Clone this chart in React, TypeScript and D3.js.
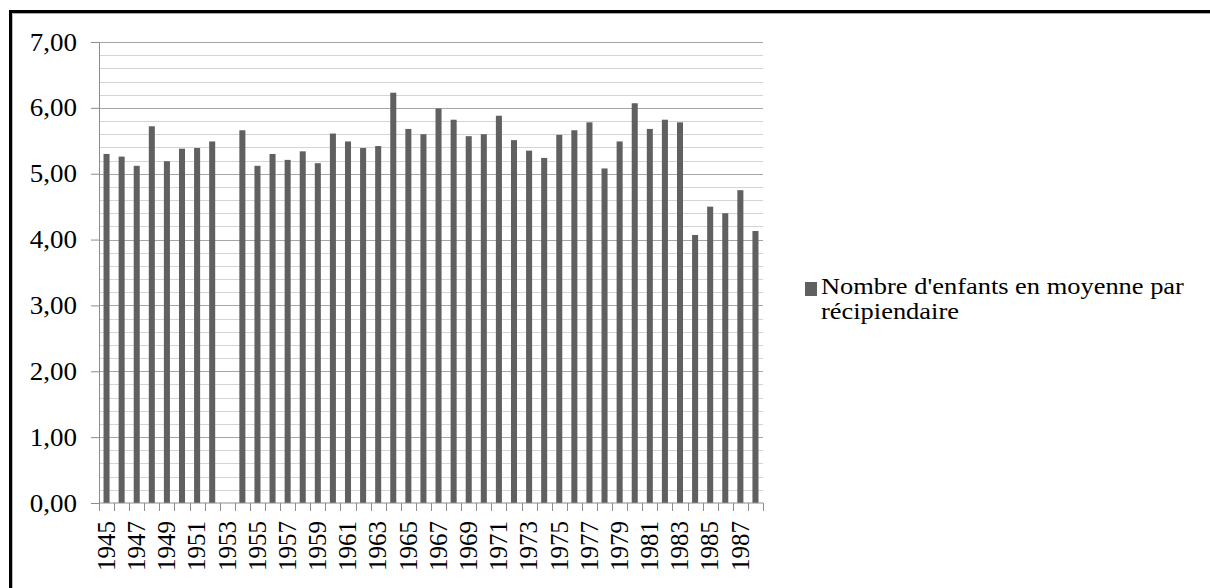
import React, { useRef, useEffect } from 'react';
import * as d3 from 'd3';

const years: number[] = d3.range(1945, 1989);

// average number of children per recipient (1953: no data)
const values: (number | null)[] = [
  5.30, 5.26, 5.12, 5.72, 5.19, 5.38, 5.39, 5.49, null, 5.66,
  5.12, 5.30, 5.21, 5.34, 5.16, 5.61, 5.49, 5.39, 5.42, 6.23,
  5.68, 5.60, 5.99, 5.82, 5.57, 5.60, 5.88, 5.51, 5.35, 5.24,
  5.59, 5.66, 5.78, 5.08, 5.49, 6.07, 5.68, 5.82, 5.78, 4.07,
  4.50, 4.40, 4.75, 4.13,
];

const yTicks: number[] = [0, 1, 2, 3, 4, 5, 6, 7];
const legendLines: string[] = ["Nombre d'enfants en moyenne par", 'récipiendaire'];

const W = 1210;
const H = 588;

const App = () => {
  const ref = useRef<SVGSVGElement>(null);

  useEffect(() => {
    const margin = { top: 42, right: 447, bottom: 85, left: 99 };
    const font = '"Liberation Serif", "Times New Roman", serif';
    const barColor = '#606060';

    const data = years.map((year, i) => ({ year, value: values[i] }));

    const x = d3.scaleBand<number>()
      .domain(years)
      .range([margin.left, W - margin.right])
      .padding(0);

    const y = d3.scaleLinear()
      .domain([0, 7])
      .range([H - margin.bottom, margin.top]);

    const svg = d3.select(ref.current);
    svg.selectAll('*').remove();

    svg.append('rect').attr('width', W).attr('height', H).attr('fill', '#fff');

    // frame (top and left edges only, as in the cropped source)
    svg.append('line').attr('x1', 10.5).attr('x2', W).attr('y1', 11.5).attr('y2', 11.5)
      .attr('stroke', '#000').attr('stroke-width', 3);
    svg.append('line').attr('x1', 10.5).attr('x2', 10.5).attr('y1', 10).attr('y2', H)
      .attr('stroke', '#000').attr('stroke-width', 3);
    svg.append('line').attr('x1', 12).attr('x2', W).attr('y1', 13.5).attr('y2', 13.5)
      .attr('stroke', '#aaa').attr('stroke-width', 1);
    svg.append('line').attr('x1', 12.5).attr('x2', 12.5).attr('y1', 13).attr('y2', H)
      .attr('stroke', '#bbb').attr('stroke-width', 1);

    const [x0, x1] = x.range();

    // minor gridlines every 0.2
    const minor = d3.range(0, 35).map(d => d / 5).filter(d => d % 1 !== 0);
    svg.append('g')
      .selectAll('line')
      .data(minor)
      .join('line')
      .attr('x1', x0).attr('x2', x1)
      .attr('y1', d => Math.round(y(d)) + 0.5).attr('y2', d => Math.round(y(d)) + 0.5)
      .attr('stroke', '#d4d4d4');

    // major gridlines
    svg.append('g')
      .selectAll('line')
      .data(yTicks.filter(d => d > 0))
      .join('line')
      .attr('x1', x0).attr('x2', x1)
      .attr('y1', d => Math.round(y(d)) + 0.5).attr('y2', d => Math.round(y(d)) + 0.5)
      .attr('stroke', '#a6a6a6');

    // bars
    const bw = x.bandwidth() * 0.4;
    svg.append('g')
      .attr('fill', barColor)
      .selectAll('rect')
      .data(data.filter(d => d.value !== null))
      .join('rect')
      .attr('x', d => (x(d.year) as number) + (x.bandwidth() - bw) / 2)
      .attr('y', d => y(d.value as number))
      .attr('width', bw)
      .attr('height', d => y(0) - y(d.value as number));

    // y axis
    const yAxis = svg.append('g')
      .attr('transform', `translate(${x0},0)`)
      .call(d3.axisLeft(y).tickValues(yTicks).tickSize(8).tickSizeOuter(0)
        .tickFormat(d => d3.format('.2f')(d as number).replace('.', ',')));
    yAxis.select('.domain').attr('stroke', '#8c8c8c');
    yAxis.selectAll('.tick line').attr('stroke', '#8c8c8c');
    yAxis.selectAll('.tick text')
      .attr('x', 0)
      .attr('transform', 'translate(-22,0) scale(1.08,1)')
      .attr('dy', '0.32em')
      .attr('fill', '#000')
      .attr('font-family', font)
      .attr('font-size', 25);

    // x axis: ticks on category boundaries
    const xAxis = svg.append('g').attr('transform', `translate(0,${y(0)})`);
    xAxis.append('line').attr('x1', x0).attr('x2', x1)
      .attr('stroke', '#8c8c8c');
    xAxis.selectAll('line.tk')
      .data([...years.map(d => x(d) as number), x1])
      .join('line')
      .attr('class', 'tk')
      .attr('x1', d => Math.round(d) + 0.5).attr('x2', d => Math.round(d) + 0.5)
      .attr('y1', 0).attr('y2', 8)
      .attr('stroke', '#8c8c8c');
    xAxis.selectAll('text')
      .data(years.filter((d, i) => i % 2 === 0))
      .join('text')
      .attr('transform', d => `translate(${(x(d) as number) + x.bandwidth() / 2},18) rotate(-90)`)
      .attr('text-anchor', 'end')
      .attr('dy', '0.33em')
      .attr('font-family', font)
      .attr('font-size', 25)
      .attr('fill', '#000')
      .text(d => d);

    // legend
    const lg = svg.append('g').attr('transform', 'translate(805,0)');
    lg.append('rect').attr('x', 0).attr('y', 282).attr('width', 12).attr('height', 14)
      .attr('fill', barColor);
    lg.selectAll('text')
      .data(legendLines)
      .join('text')
      .attr('transform', (d, i) => `translate(16,${294 + i * 25}) scale(1.15,1)`)
      .attr('font-family', font)
      .attr('font-size', 23)
      .attr('fill', '#000')
      .text(d => d);
  }, []);

  return (
    <svg ref={ref} width={W} height={H}
      style={{ position: 'absolute', left: 0, top: 0, display: 'block' }} />
  );
};

export default App;
